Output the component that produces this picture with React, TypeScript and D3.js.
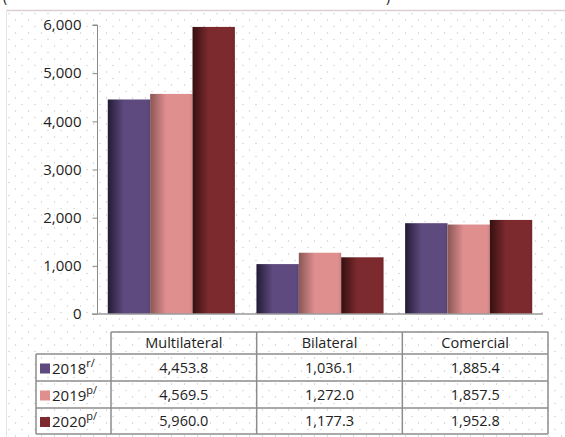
import React, {useEffect, useRef} from 'react';
import * as d3 from 'd3';

const categories = ['Multilateral', 'Bilateral', 'Comercial'];
const seriesNames = ['2018', '2019', '2020'];
const seriesMarks = ['r/', 'p/', 'p/'];
const values2018 = [4453.8, 1036.1, 1885.4];
const values2019 = [4569.5, 1272.0, 1857.5];
const values2020 = [5960.0, 1177.3, 1952.8];
const yTicks = [0, 1000, 2000, 3000, 4000, 5000, 6000];

const colors = ['#5e4a7e', '#e08f8f', '#7d2a2e'];
const darks = ['#231b35', '#8a5656', '#351010'];

const W = 565;
const H = 437;

const App: React.FC = () => {
  const ref = useRef<SVGSVGElement>(null);

  useEffect(() => {
    const svg = d3.select(ref.current);
    svg.selectAll('*').remove();
    const series = [values2018, values2019, values2020];
    const font = '"Open Sans", "Noto Sans", sans-serif';

    const defs = svg.append('defs');
    const pat = defs.append('pattern')
    .attr('id', 'dots')
    .attr('patternUnits', 'userSpaceOnUse')
    .attr('width', 13).attr('height', 13)
    .attr('x', 6).attr('y', 10);
    pat.append('circle').attr('cx', 3).attr('cy', 3.5).attr('r', 0.7).attr('fill', '#c8c8c8');
    pat.append('circle').attr('cx', 9.5).attr('cy', 10).attr('r', 0.7).attr('fill', '#c8c8c8');

    colors.forEach((c, i) => {
      const g = defs.append('linearGradient').attr('id', `grad${i}`)
      .attr('x1', '0%').attr('x2', '100%').attr('y1', '0%').attr('y2', '0%');
      g.append('stop').attr('offset', '0%').attr('stop-color', darks[i]);
      g.append('stop').attr('offset', '38%').attr('stop-color', c);
      g.append('stop').attr('offset', '92%').attr('stop-color', c);
      g.append('stop').attr('offset', '100%').attr('stop-color', d3.color(c)!.darker(0.25).toString());
    });

    // cut-off title line
    svg.append('text').attr('x', 3).attr('y', 2).attr('font-family', font)
    .attr('font-size', 14).attr('fill', '#222').text('(');
    svg.append('text').attr('x', 386).attr('y', 2).attr('font-family', font)
    .attr('font-size', 14).attr('fill', '#222').text(')');

    // chart area
    svg.append('rect').attr('x', 6).attr('y', 10).attr('width', W).attr('height', H)
    .attr('fill', '#fff');
    svg.append('rect').attr('x', 6).attr('y', 10).attr('width', W).attr('height', H)
    .attr('fill', 'url(#dots)');
    svg.append('line').attr('x1', 6).attr('x2', W).attr('y1', 10.5).attr('y2', 10.5)
    .attr('stroke', '#dccdd0').attr('stroke-width', 1.5);
    svg.append('line').attr('x1', 6.5).attr('x2', 6.5).attr('y1', 10).attr('y2', H)
    .attr('stroke', '#e4e4e4').attr('stroke-width', 1);

    const x0 = d3.scaleBand().domain(categories).range([97, 543]).paddingInner(0).paddingOuter(0);
    const inner = x0.bandwidth() * 0.855;
    const x1 = d3.scaleBand().domain(seriesNames).range([0, inner]).padding(0);
    const y = d3.scaleLinear().domain([0, 6000]).range([314, 25]);

    // bars
    categories.forEach((cat, ci) => {
      const gx = x0(cat)! + (x0.bandwidth() - inner) / 2;
      series.forEach((vals, si) => {
        svg.append('rect')
        .attr('x', gx + x1(seriesNames[si])!)
        .attr('y', y(vals[ci]))
        .attr('width', x1.bandwidth())
        .attr('height', y(0) - y(vals[ci]))
        .attr('fill', `url(#grad${si})`);
      });
    });

    // y axis
    const axis = svg.append('g').attr('transform', 'translate(97.5,0)')
    .call(d3.axisLeft(y).tickValues(yTicks).tickSize(5).tickPadding(11)
      .tickFormat(d => d3.format(',')(d as number)));
    axis.select('.domain').attr('stroke', '#8a8a8a').attr('d', `M-5,${y(6000)}H0V${y(0)}`);
    axis.selectAll('.tick line').attr('stroke', '#8a8a8a');
    axis.selectAll('.tick text').attr('font-family', font).attr('font-size', 15)
    .attr('fill', '#222');
    svg.append('line').attr('x1', 92).attr('x2', 543).attr('y1', y(0)).attr('y2', y(0))
    .attr('stroke', '#9a9a9a').attr('stroke-width', 1.5);

    // data table
    const colX = d3.scaleBand().domain(categories).range([111, 548]);
    const rowY = [332, 354, 381, 408, 434];
    const tb = svg.append('g').attr('fill', 'none').attr('stroke', '#8c8c8c').attr('stroke-width', 1.5);
    tb.append('line').attr('x1', 111).attr('x2', 548).attr('y1', rowY[0]).attr('y2', rowY[0]);
    rowY.slice(1).forEach(ry => {
      tb.append('line').attr('x1', 36).attr('x2', 548).attr('y1', ry).attr('y2', ry);
    });
    tb.append('line').attr('x1', 36).attr('x2', 36).attr('y1', rowY[1]).attr('y2', rowY[4]);
    categories.forEach(cat => {
      tb.append('line').attr('x1', colX(cat)!).attr('x2', colX(cat)!)
      .attr('y1', rowY[0]).attr('y2', rowY[4]);
    });
    tb.append('line').attr('x1', 548).attr('x2', 548).attr('y1', rowY[0]).attr('y2', rowY[4]);

    categories.forEach(cat => {
      svg.append('text').attr('x', colX(cat)! + colX.bandwidth() / 2).attr('y', (rowY[0] + rowY[1]) / 2 + 5)
      .attr('text-anchor', 'middle').attr('font-family', font).attr('font-size', 14.5)
      .attr('fill', '#222').text(cat);
    });

    series.forEach((vals, si) => {
      const cy = (rowY[si + 1] + rowY[si + 2]) / 2;
      svg.append('rect').attr('x', 40).attr('y', cy - 4).attr('width', 10).attr('height', 10)
      .attr('fill', colors[si]);
      const t = svg.append('text').attr('x', 52).attr('y', cy + 6).attr('font-family', font)
      .attr('font-size', 15).attr('fill', '#222');
      t.append('tspan').text(seriesNames[si]);
      t.append('tspan').attr('dy', -7).attr('font-size', 11).text(seriesMarks[si]);
      vals.forEach((v, ci) => {
        svg.append('text').attr('x', colX(categories[ci])! + colX.bandwidth() / 2).attr('y', cy + 5)
        .attr('text-anchor', 'middle').attr('font-family', font).attr('font-size', 14.5)
        .attr('fill', '#222').text(d3.format(',.1f')(v));
      });
    });
  }, []);

  return <svg ref={ref} width={W} height={H}
              style={{position: 'absolute', left: 0, top: 0, background: '#fff'}}/>;
};

export default App;
